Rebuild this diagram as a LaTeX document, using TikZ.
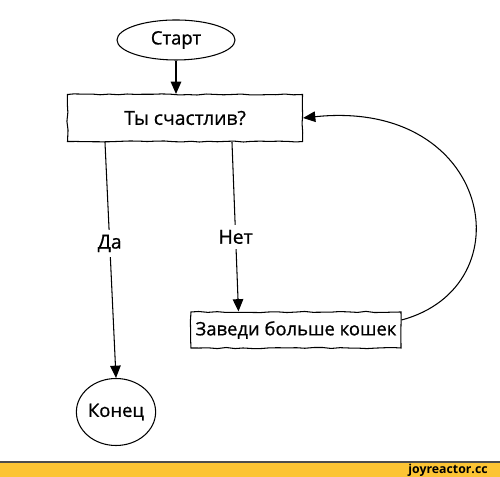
\documentclass[tikz,border=0pt]{standalone}
\usepackage{fontspec}
\setmainfont{Open Sans}
\newfontfamily\handfont{Open Sans}[FakeBold=0.8]
\usepackage{tikz}
\usetikzlibrary{positioning, shapes.geometric, arrows.meta, decorations.pathmorphing}

\begin{document}
\pgfmathsetseed{11}
\begin{tikzpicture}[
    wobbly/.style={decorate, decoration={random steps, segment length=5pt, amplitude=0.35pt}},
    oval/.style={ellipse, draw=black, line width=0.6pt,
      minimum width=2.36cm, minimum height=0.8cm, inner sep=0pt, font=\handfont\fontsize{10.5}{12}\selectfont},
    box/.style={rectangle, draw=black, line width=0.6pt, wobbly,
      align=center, inner sep=0pt, font=\handfont\fontsize{11}{13}\selectfont},
    arrow/.style={-{Triangle[length=7pt, width=6pt]}, line width=0.6pt, black},
    lab/.style={fill=white, inner sep=3pt, font=\handfont\fontsize{11}{13}\selectfont}
  ]
    \useasboundingbox (0,0) rectangle (10,9.54);

    \node[oval] (start) at (3.52,8.74) {Старт};
    \node[box, minimum width=4.7cm, minimum height=0.94cm] (ask) at (3.70,7.18) {Ты счастлив?};
    \node[box, minimum width=4.2cm, minimum height=0.72cm, font=\handfont\fontsize{10.5}{12}\selectfont] (cats) at (5.92,2.94) {Заведи больше кошек};
    \node[oval, minimum width=1.56cm, minimum height=1.34cm] (stop) at (2.32,1.30) {Конец};

    \draw[arrow] (start.south) -- (start.south |- ask.north);
    \draw[arrow] ([xshift=0.76cm]ask.south west) -- node[lab, pos=0.43] {Да} (stop.north);
    \draw[arrow] ([xshift=3.3cm]ask.south west) -- node[lab, pos=0.56] {Нет} ([xshift=0.96cm]cats.north west);
    \draw[arrow] ([yshift=0.2cm]cats.east) to[out=15, in=6, out distance=2.6cm, in distance=3.8cm] (ask.east);

    % footer
    \fill[fill={rgb,255:red,252;green,196;blue,52}] (0,0) rectangle (10,0.30);
    \draw[line width=0.8pt, black!70] (0,0.30) -- (10,0.30);
    \node[anchor=east, inner sep=0pt, font=\fontsize{7}{8}\selectfont\bfseries] (site) at (9.76,0.14) {joyreactor.cc};
  \end{tikzpicture}
\end{document}
